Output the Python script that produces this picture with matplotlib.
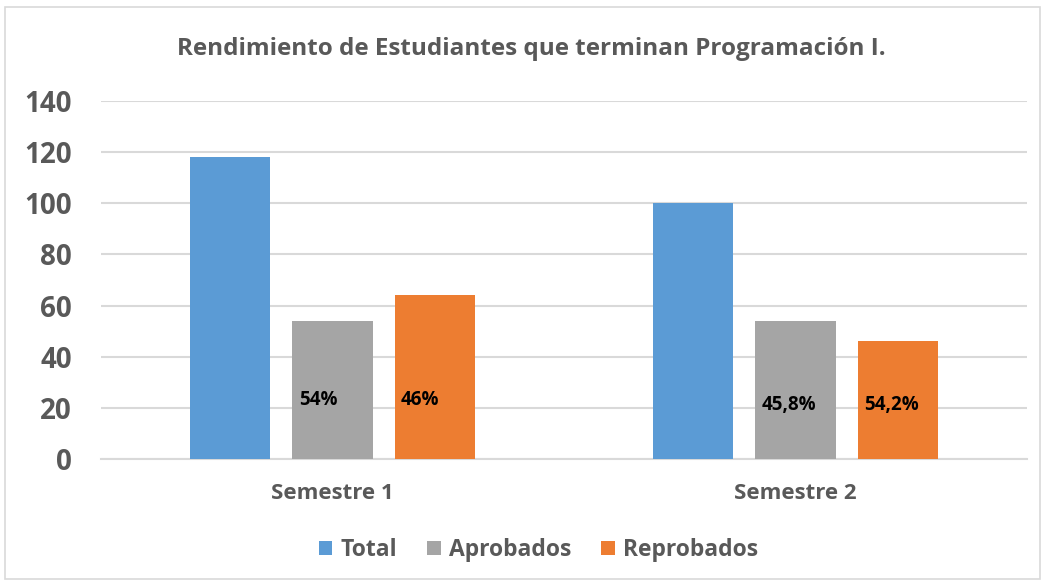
import matplotlib
matplotlib.use("Agg")
import matplotlib.pyplot as plt
from matplotlib.patches import Rectangle, Patch
import numpy as np

categories = ["Semestre 1", "Semestre 2"]
series_names = ["Total", "Aprobados", "Reprobados"]
total = [118, 100]
aprobados = [54, 54]
reprobados = [64, 46]
label_aprobados = ["54%", "45,8%"]
label_reprobados = ["46%", "54,2%"]
yticks = [0, 20, 40, 60, 80, 100, 120, 140]

colors = ["#5B9BD5", "#A5A5A5", "#ED7D31"]
txt = "#595959"
FONT = ["Open Sans", "DejaVu Sans"]
plt.rcParams["font.family"] = FONT

fig = plt.figure(figsize=(10.45, 5.82), dpi=100)
ax = fig.add_axes([101/1045, 1-459/582, 926/1045, 358/582])

x = np.arange(len(categories))
w = 0.173
step = 0.221
series = [total, aprobados, reprobados]
for i, (vals, c) in enumerate(zip(series, colors)):
    ax.bar(x + (i-1)*step, vals, width=w, color=c, zorder=3)

label_y = [23, 21]
for j in range(len(categories)):
    for k, labs, vals in [(0, label_aprobados, aprobados), (1, label_reprobados, reprobados)]:
        xl = x[j] + k*step - w/2
        ax.annotate(labs[j], xy=(xl, label_y[j]), xytext=(4.5, 0), textcoords="offset points",
                    ha="left", va="center", fontsize=13.5, fontweight="bold", color="black", zorder=4)

ax.set_xlim(-0.5, 1.5)
ax.set_ylim(0, 140)
ax.set_yticks(yticks)
ax.set_yticklabels([str(t) for t in yticks], fontsize=20, fontweight="bold", color=txt)
ax.set_xticks(x)
ax.set_xticklabels(categories, fontsize=16, fontweight="bold", color=txt)
ax.tick_params(axis="both", length=0)
ax.tick_params(axis="y", pad=21)
ax.tick_params(axis="x", pad=17)
ax.grid(axis="y", color="#D9D9D9", linewidth=1.5, zorder=0)
for s in ["top", "right", "left"]:
    ax.spines[s].set_visible(False)
ax.spines["bottom"].set_color("#D9D9D9")
ax.spines["bottom"].set_linewidth(1.5)

fig.text(0.508, 1-49/582, "Rendimiento de Estudiantes que terminan Programación I.",
         ha="center", va="center", fontsize=17.5, fontweight="bold", color=txt)

handles = [Patch(facecolor=c, edgecolor="none") for c in colors]
leg = fig.legend(handles, series_names, loc="center", bbox_to_anchor=(0.515, 1-550/582),
                 ncol=3, frameon=False, handlelength=0.6, handleheight=0.6,
                 handletextpad=0.35, columnspacing=1.3,
                 prop={"family": FONT, "weight": "bold", "size": 16.5})
for t in leg.get_texts():
    t.set_color(txt)

fig.patches.append(Rectangle((5/1045, 3/582), 1035/1045, 572/582, transform=fig.transFigure,
                             fill=False, edgecolor="#D9D9D9", linewidth=1.2))

fig.savefig("out.png", dpi=100)
